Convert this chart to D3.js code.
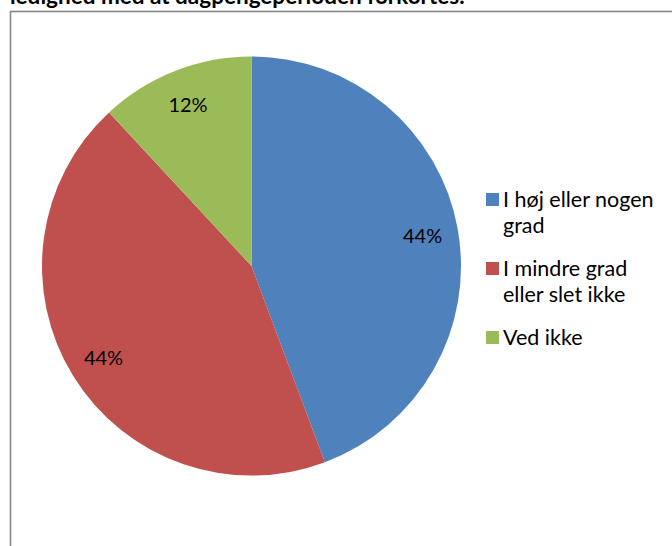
<!DOCTYPE html>
<html><head><meta charset="utf-8">
<script src="https://cdn.jsdelivr.net/npm/d3@7/dist/d3.min.js"></script>
<style>body{margin:0;background:#fff;}svg{display:block;}</style>
</head><body>
<svg id="c" width="672" height="546"></svg>
<script>
const titleText = "ledighed med at dagpengeperioden forkortes.";
const categories = ["I høj eller nogen grad", "I mindre grad eller slet ikke", "Ved ikke"];
const legendLines = [["I høj eller nogen", "grad"], ["I mindre grad", "eller slet ikke"], ["Ved ikke"]];
const values = [44.3, 43.8, 11.9];
const labels = ["44%", "44%", "12%"];
const colors = ["#4F81BD", "#C0504D", "#9BBB59"];

const svg = d3.select("#c");
const font = "Lato, 'Open Sans', sans-serif";

// frame
svg.append("rect").attr("x", 10.5).attr("y", 11.5).attr("width", 700).attr("height", 600)
  .attr("fill", "none").attr("stroke", "#878787").attr("stroke-width", 1.6);

// title (cut off at top, as in the reference)
svg.append("text").attr("x", 10).attr("y", 3.5).text(titleText)
  .attr("font-family", font).attr("font-weight", "bold").attr("font-size", 22.5).attr("fill", "#000");

const cx = 251.5, cy = 266, R = 209.5;
const pie = d3.pie().sort(null).value(d => d)(values);
const arc = d3.arc().innerRadius(0).outerRadius(R);
const labelArc = d3.arc().innerRadius(R * 0.83).outerRadius(R * 0.83);
const g = svg.append("g").attr("transform", `translate(${cx},${cy})`);
g.selectAll("path").data(pie).join("path").attr("d", arc).attr("fill", (d, i) => colors[i]);
g.selectAll("text").data(pie).join("text")
  .attr("transform", d => `translate(${labelArc.centroid(d)})`)
  .attr("text-anchor", "middle").attr("dominant-baseline", "central")
  .attr("font-family", font).attr("font-size", 20).attr("fill", "#000")
  .text((d, i) => labels[i]);

// legend
const leg = svg.append("g").attr("transform", "translate(486,193)");
const yStarts = [0, 69, 138];
categories.forEach((c, i) => {
  const gi = leg.append("g").attr("transform", `translate(0,${yStarts[i]})`);
  gi.append("rect").attr("width", 13).attr("height", 13).attr("fill", colors[i]);
  const t = gi.append("text").attr("font-family", font).attr("font-size", 21.5).attr("fill", "#000");
  legendLines[i].forEach((ln, j) => {
    t.append("tspan").attr("x", 17).attr("y", 13.5 + j * 26.5).text(ln);
  });
});
</script>
</body></html>
